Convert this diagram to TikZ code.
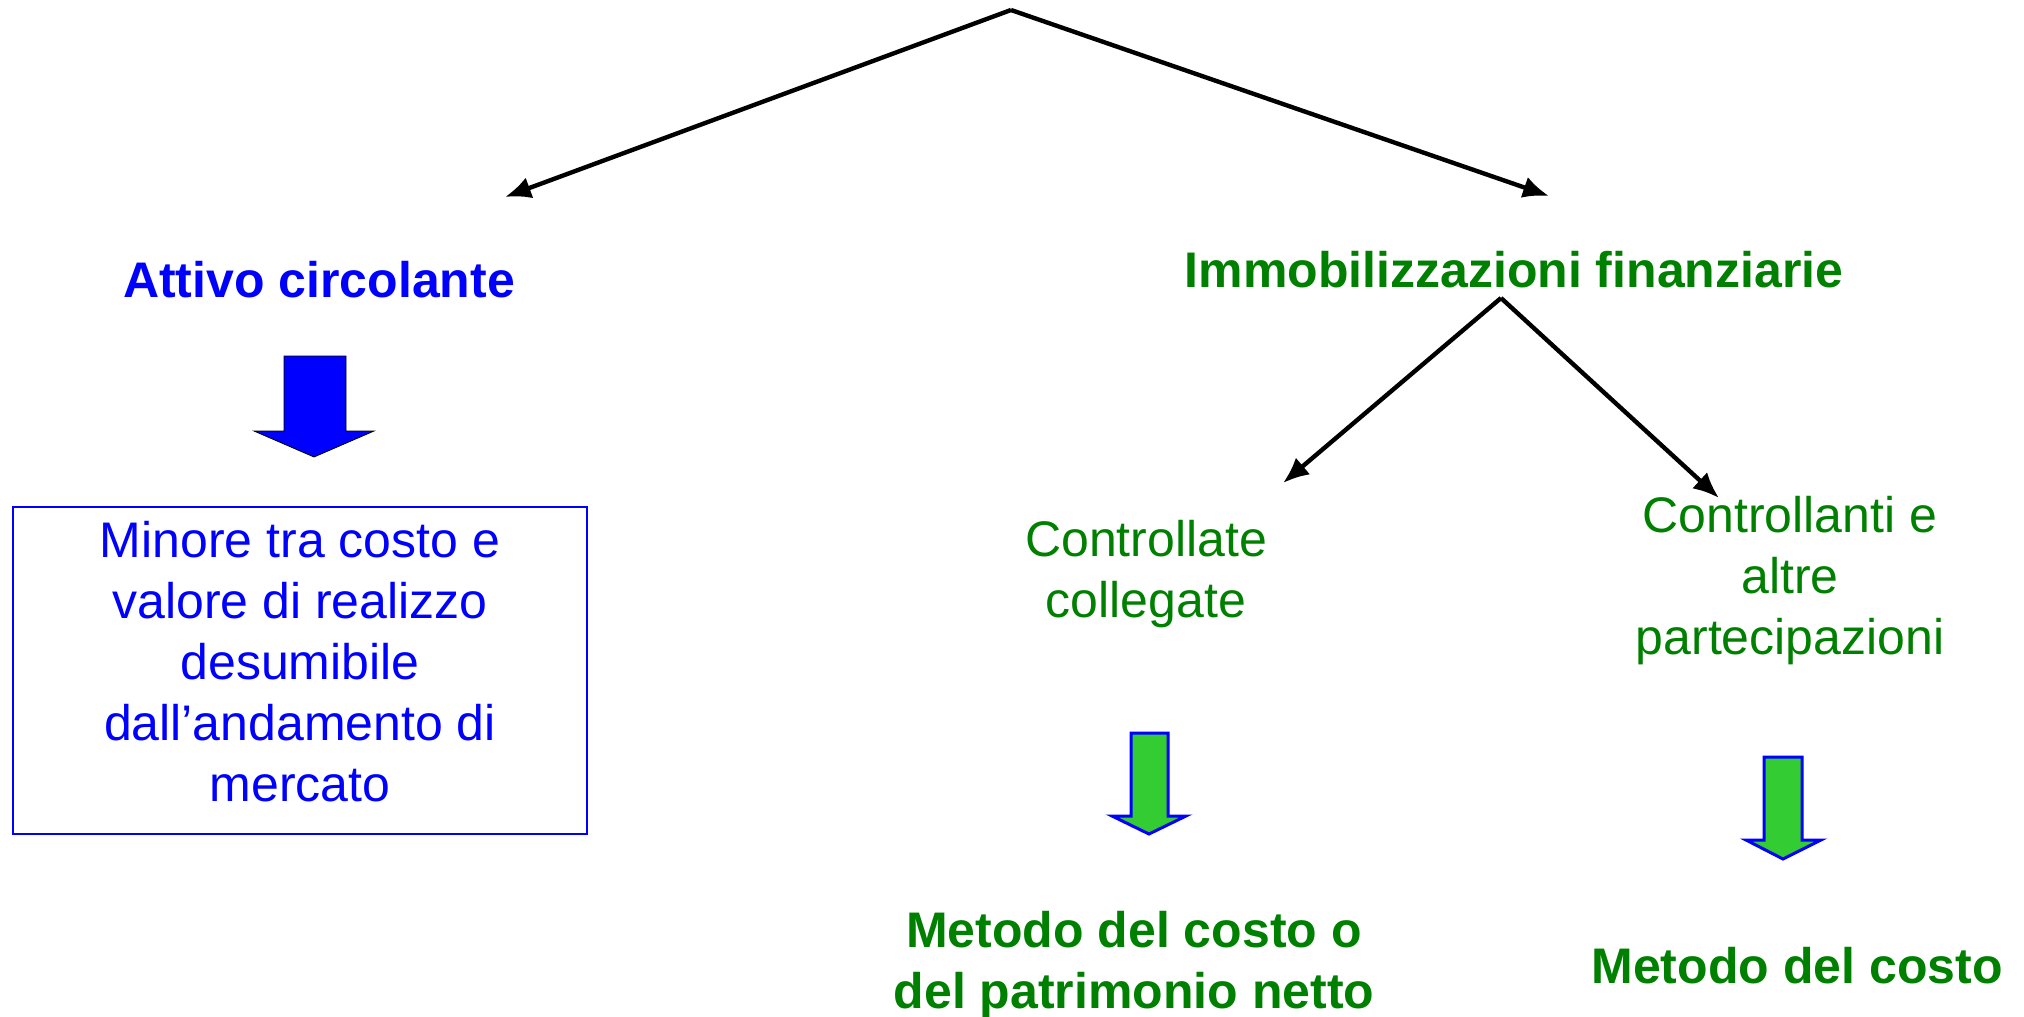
\documentclass[tikz,border=0pt]{standalone}
\usepackage{fontspec}
\setmainfont{Liberation Sans}
\usetikzlibrary{arrows.meta,positioning}
\definecolor{TxtBlue}{RGB}{0,0,255}
\definecolor{TxtGreen}{RGB}{0,128,0}
\definecolor{ArrowGreen}{RGB}{51,204,51}

\begin{document}
\begin{tikzpicture}[x=0.5pt,y=-0.5pt,
  every node/.style={inner sep=0pt,align=center,font=\fontsize{25}{30.5}\selectfont},
  title/.style={font=\fontsize{25}{30.5}\selectfont\bfseries},
  link/.style={line width=2.2pt,-{Latex[length=13pt,width=11pt]}},
  bluearrow/.style={fill=TxtBlue},
  greenarrow/.style={fill=ArrowGreen,draw=TxtBlue,line width=1.5pt}]
\useasboundingbox (0,0) rectangle (2024,1017);
\node [anchor=base,title,text=TxtBlue] (Attivo) at (319,297) {Attivo circolante};
\node [anchor=base,title,text=TxtGreen] (Immobilizzazioni) at (1514,287) {Immobilizzazioni finanziarie};
\coordinate (Root) at (1011,10);
\coordinate (AttivoEnd) at (505,197);
\coordinate (ImmobilizzazioniEnd) at (1549,196);
\draw [link] (Root) -- (AttivoEnd);
\draw [link] (Root) -- (ImmobilizzazioniEnd);
\draw [bluearrow] (284,356) -- (346,356) -- (346,431) -- (374,431) -- (314,457) -- (254,431) -- (284,431) -- cycle;
\node [draw=TxtBlue,line width=1.25pt,minimum width=287pt,minimum height=163.5pt] (MinoreBox) at (300,670.5) {};
\node [anchor=base,text=TxtBlue] (MinoreText) at (300,801) {Minore tra costo e\\valore di realizzo\\desumibile\\dall’andamento di\\mercato};
\coordinate (FinSplit) at (1501,298);
\coordinate (ControllateEnd) at (1283,483);
\coordinate (ControllantiEnd) at (1719,498);
\draw [link] (FinSplit) -- (ControllateEnd);
\draw [link] (FinSplit) -- (ControllantiEnd);
\node [anchor=base,text=TxtGreen] (Controllate) at (1146,617) {Controllate\\collegate};
\node [anchor=base,text=TxtGreen] (Controllanti) at (1790,654) {Controllanti e\\altre\\partecipazioni};
\draw [greenarrow] (1131,733) -- (1168,733) -- (1168,816) -- (1186,816) -- (1149,834) -- (1112,816) -- (1131,816) -- cycle;
\draw [greenarrow] (1764,757) -- (1802,757) -- (1802,840) -- (1821,840) -- (1783,859) -- (1746,840) -- (1764,840) -- cycle;
\node [anchor=base,title,text=TxtGreen] (MetodoPatrimonio) at (1134,1008) {Metodo del costo o\\del patrimonio netto};
\node [anchor=base,title,text=TxtGreen] (MetodoCosto) at (1797,983) {Metodo del costo};
\end{tikzpicture}
\end{document}
